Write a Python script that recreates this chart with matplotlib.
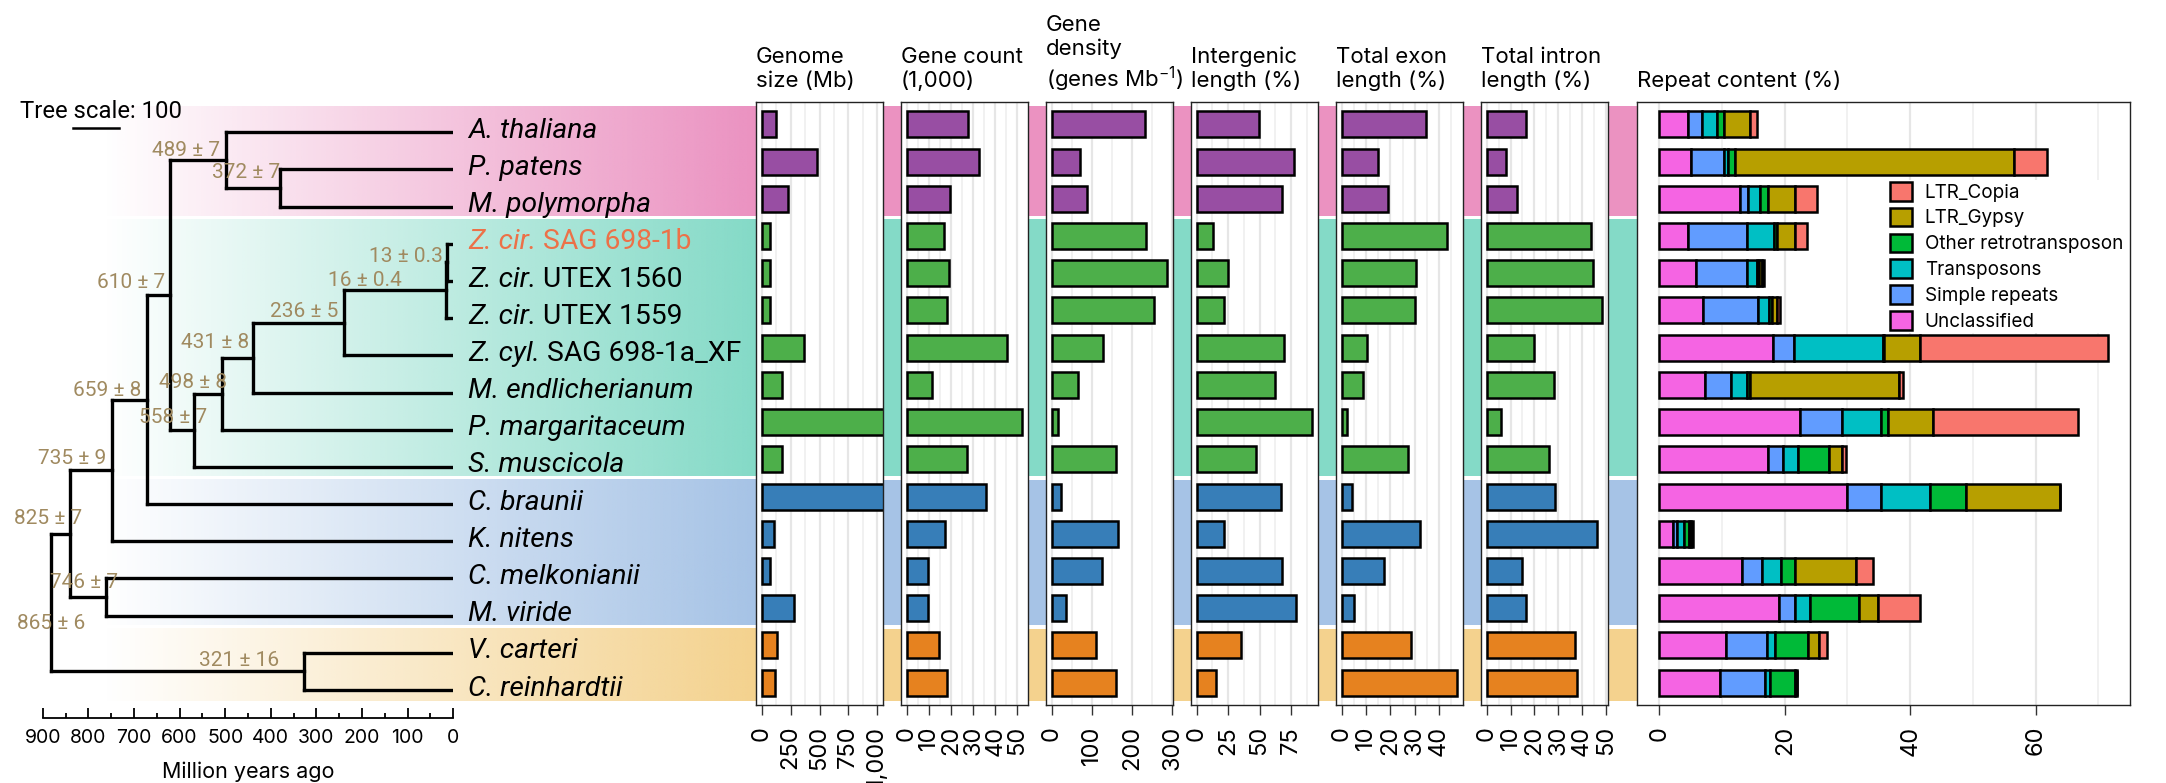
import matplotlib.pyplot as plt
import numpy as np
from matplotlib.collections import LineCollection
from matplotlib.ticker import MultipleLocator, AutoMinorLocator, FuncFormatter
from matplotlib.patches import Patch
from matplotlib.colors import to_rgb

plt.rcParams['font.family'] = 'Inter'
plt.rcParams['mathtext.default'] = 'regular'

W, H = 2166, 783

# species, top to bottom
species_italic = ['A. thaliana', 'P. patens', 'M. polymorpha', 'Z. cir.', 'Z. cir.', 'Z. cir.', 'Z. cyl.',
                  'M. endlicherianum', 'P. margaritaceum', 'S. muscicola', 'C. braunii', 'K. nitens',
                  'C. melkonianii', 'M. viride', 'V. carteri', 'C. reinhardtii']
species_strain = ['', '', '', 'SAG 698-1b', 'UTEX 1560', 'UTEX 1559', 'SAG 698-1a_XF',
                  '', '', '', '', '', '', '', '', '']
clade = ['Embryophyta'] * 3 + ['Zygnematophyceae'] * 7 + ['Streptophyte algae'] * 4 + ['Chlorophyta'] * 2
highlight = 'Z. cir. SAG 698-1b'

clade_bar = {'Embryophyta': '#984EA3', 'Zygnematophyceae': '#4DAF4A',
             'Streptophyte algae': '#377EB8', 'Chlorophyta': '#E6821F'}
clade_band = {'Embryophyta': '#EB92C1', 'Zygnematophyceae': '#84DAC7',
              'Streptophyte algae': '#A6C3E6', 'Chlorophyta': '#F4D28E'}

# genome statistics
genome_size = [124, 477, 231, 75, 72, 75, 364, 176, 1400, 173, 1750, 110, 75, 283, 133, 116]
gene_count = [27.9, 32.7, 19.6, 16.9, 19.0, 18.4, 45.5, 11.4, 52.2, 27.3, 35.8, 17.3, 9.6, 9.6, 14.5, 18.1]
gene_density = [231, 70.7, 87.2, 234, 287, 255, 126.6, 65, 15.6, 159.5, 22.2, 164.5, 125.8, 34.5, 109.4, 160.4]
intergenic = [49.2, 77.2, 67.9, 12.7, 25.1, 21.7, 69.8, 62.4, 92.0, 46.8, 67.1, 21.7, 68.2, 78.8, 34.9, 15.1]
exon = [34.7, 14.8, 19.2, 43.3, 30.5, 30.0, 10.4, 8.9, 2.2, 27.3, 4.1, 32.2, 17.3, 5.1, 28.5, 47.5]
intron = [16.6, 8.0, 12.9, 43.6, 44.6, 48.5, 19.8, 28.4, 6.0, 26.1, 28.8, 46.4, 14.8, 16.3, 36.9, 37.9]

# repeat content (%)
unclassified = [4.6, 5.1, 12.9, 4.5, 5.8, 7.0, 18.1, 7.3, 22.5, 17.4, 29.9, 2.1, 13.1, 19.0, 10.6, 9.7]
simple_rep = [2.2, 5.2, 1.3, 9.4, 8.2, 8.8, 3.3, 4.1, 6.7, 2.3, 5.4, 0.7, 3.2, 2.6, 6.5, 7.2]
transposons = [2.4, 0.6, 1.8, 4.4, 1.5, 1.7, 14.2, 2.5, 6.1, 2.4, 7.9, 1.2, 3.1, 2.4, 1.3, 0.8]
other_retro = [1.1, 1.2, 1.3, 0.5, 0.4, 0.5, 0.3, 0.5, 1.2, 5.0, 5.7, 0.7, 2.3, 7.8, 5.3, 3.9]
ltr_gypsy = [4.2, 44.4, 4.3, 2.8, 0.4, 0.8, 5.7, 23.9, 7.2, 2.1, 15.0, 0.4, 9.6, 3.1, 1.7, 0.3]
ltr_copia = [1.0, 5.3, 3.6, 1.9, 0.4, 0.4, 29.9, 0.6, 23.0, 0.6, 0.0, 0.2, 2.7, 6.6, 1.3, 0.1]
repeat_names = ['Unclassified', 'Simple repeats', 'Transposons', 'Other retrotransposon', 'LTR_Gypsy', 'LTR_Copia']
repeat_colors = ['#F564E3', '#619CFF', '#00BFC4', '#00BA38', '#B79F00', '#F8766D']

# time tree: (node, age, label, children); leaves are row indices
tree_nodes = [
    ('n13', 13, '13 ± 0.3', [3, 4]),
    ('n16', 16, '16 ± 0.4', ['n13', 5]),
    ('n236', 236, '236 ± 5', ['n16', 6]),
    ('n431', 431, '431 ± 8', ['n236', 7]),
    ('n498', 498, '498 ± 8', ['n431', 8]),
    ('n558', 558, '558 ± 7', ['n498', 9]),
    ('n372', 372, '372 ± 7', [1, 2]),
    ('n489', 489, '489 ± 7', [0, 'n372']),
    ('n610', 610, '610 ± 7', ['n489', 'n558']),
    ('n659', 659, '659 ± 8', ['n610', 10]),
    ('n735', 735, '735 ± 9', ['n659', 11]),
    ('n746', 746, '746 ± 7', [12, 13]),
    ('n825', 825, '825 ± 7', ['n735', 'n746']),
    ('n321', 321, '321 ± 16', [14, 15]),
    ('n865', 865, '865 ± 6', ['n825', 'n321']),
]
# where each age label sits relative to its node (Myr, rows)
label_dx = [9, 94, 12, 8, -11, -28, 1, 13, 10, 13, 12, -25, -26, 54, -73]
label_dy = [-0.15, -0.26, -0.30, -0.40, -0.29, -0.34, -0.41, -0.27, -0.33, -0.24, -0.31, -0.40, -0.40, -0.29, 0.55]

age_col = '#A08A60'
n = len(species_italic)


def px_axes(x0, y0, x1, y1, **kw):
    return fig.add_axes([x0 / W, 1 - y1 / H, (x1 - x0) / W, (y1 - y0) / H], **kw)


fig = plt.figure(figsize=(W / 100, H / 100), dpi=100)

# ---- coloured clade bands (gradient under the tree, solid between panels)
ax_grad = px_axes(103, 102, 756, 705, zorder=0)
ax_solid = px_axes(756, 102, 1637, 705, zorder=0)
firsts = {}
for i, c in enumerate(clade):
    firsts.setdefault(c, [i, i])[1] = i
for c, (i0, i1) in firsts.items():
    y0 = i0 - 0.5 + (0.05 if i0 > 0 else 0)
    y1 = i1 + 0.5 - (0.05 if i1 < n - 1 else 0)
    rgb = to_rgb(clade_band[c])
    grad = np.zeros((1, 256, 4))
    grad[..., :3] = rgb
    grad[..., 3] = np.linspace(0, 1, 256)
    ax_grad.imshow(grad, extent=(0, 1, y1, y0), aspect='auto', interpolation='bilinear')
    ax_solid.axhspan(y0, y1, color=clade_band[c], lw=0)
for a in (ax_grad, ax_solid):
    a.set_xlim(0, 1)
    a.set_ylim(15.6, -0.6)
    a.axis('off')

# ---- tree
ax_tree = px_axes(42.7, 102, 453.3, 705, zorder=2)
ax_tree.set_xlim(883, 0)
ax_tree.set_ylim(15.403, -0.815)
ax_tree.axis('off')
pos = {i: (0.0, float(i)) for i in range(n)}
segs = []
for (name, age, lab, kids), dx, dy in zip(tree_nodes, label_dx, label_dy):
    ys = [pos[k][1] for k in kids]
    pos[name] = (age, (min(ys) + max(ys)) / 2)
    segs.append([(age, min(ys)), (age, max(ys))])
    for k in kids:
        segs.append([(age, pos[k][1]), (pos[k][0], pos[k][1])])
    ax_tree.text(age + dx, pos[name][1] + dy, lab, ha='right', va='center',
                 color=age_col, fontsize=15, family='Roboto', clip_on=False)
ax_tree.add_collection(LineCollection(segs, colors='black', linewidths=2.4, capstyle='projecting'))

# scale bar
ax_tree.plot([818, 718], [-0.12, -0.12], color='black', lw=1.8, clip_on=False)
ax_tree.text(932, -0.55, 'Tree scale: 100', ha='left', va='center', fontsize=17.2,
             family='Roboto', clip_on=False)

# species labels
for i in range(n):
    full = species_italic[i] + (' ' + species_strain[i] if species_strain[i] else '')
    col = '#EC7148' if full == highlight else 'black'
    t = ax_tree.annotate(species_italic[i], xy=(0, i - 0.04), xytext=(10.5, 0), textcoords='offset points',
                         ha='left', va='center', fontsize=20.3, family='Roboto', style='italic',
                         color=col, annotation_clip=False)
    if species_strain[i]:
        ax_tree.annotate(' ' + species_strain[i], xy=(1, 0), xycoords=t, ha='left', va='bottom',
                         fontsize=20.3, family='Roboto', color=col, annotation_clip=False)

# time axis
ax_time = px_axes(42.7, 690, 453.3, 717.7, zorder=2)
ax_time.patch.set_visible(False)
for s in ('top', 'left', 'right'):
    ax_time.spines[s].set_visible(False)
ax_time.spines['bottom'].set_linewidth(1.3)
ax_time.set_xlim(900, 0)
ax_time.set_yticks([])
ax_time.xaxis.set_major_locator(MultipleLocator(100))
ax_time.xaxis.set_minor_locator(MultipleLocator(50))
ax_time.tick_params(axis='x', which='major', direction='in', length=7.2, width=1.3, pad=8, labelsize=14)
ax_time.tick_params(axis='x', which='minor', direction='in', length=3.6, width=1.3)
ax_time.set_xlabel('Million years ago', fontsize=15.5, labelpad=10.5)

# ---- bar panels
panels = [
    ('Genome\nsize (Mb)', genome_size, 250, 1000),
    ('Gene count\n(1,000)', gene_count, 10, None),
    ('Gene\ndensity\n(genes Mb$^{-1}$)', gene_density, 100, None),
    ('Intergenic\nlength (%)', intergenic, 25, None),
    ('Total exon\nlength (%)', exon, 10, None),
    ('Total intron\nlength (%)', intron, 10, None),
]
rows = np.arange(n)
bar_cols = [clade_bar[c] for c in clade]


def style_panel(ax, title, step, top):
    ax.set_xlim(-0.05 * top, 1.05 * top)
    ax.set_ylim(15.6, -0.6)
    ax.set_yticks([])
    ax.xaxis.set_major_locator(MultipleLocator(step))
    ax.xaxis.set_minor_locator(AutoMinorLocator(2))
    ax.xaxis.set_major_formatter(FuncFormatter(lambda v, p: f'{v:,.0f}'))
    ax.grid(axis='x', which='major', color='#E6E6E6', lw=1.6)
    ax.grid(axis='x', which='minor', color='#EDEDED', lw=1.1)
    ax.set_axisbelow(True)
    for s in ax.spines.values():
        s.set_color('#222222')
        s.set_linewidth(1.0)
    ax.tick_params(axis='x', which='major', length=7, width=1.0, color='#333333',
                   labelsize=17, labelrotation=90, pad=8)
    ax.tick_params(axis='x', which='minor', length=0)
    ax.annotate(title, xy=(0, 1), xycoords='axes fraction', xytext=(0, 10.5), textcoords='offset points',
                ha='left', va='baseline', fontsize=16, linespacing=1.25, annotation_clip=False)


for k, (title, vals, step, top) in enumerate(panels):
    x0 = 756 + 145 * k
    ax = px_axes(x0, 102, x0 + 127, 705, zorder=3)
    ax.barh(rows, vals, height=0.7, color=bar_cols, edgecolor='black', linewidth=1.8)
    style_panel(ax, title, step, top if top else max(vals))

# repeat content
ax_r = px_axes(1637, 102, 2130, 705, zorder=3)
left = np.zeros(n)
handles = []
for name, col, vals in zip(repeat_names, repeat_colors,
                           [unclassified, simple_rep, transposons, other_retro, ltr_gypsy, ltr_copia]):
    ax_r.barh(rows, vals, left=left, height=0.7, color=col, edgecolor='black', linewidth=1.8)
    left += np.array(vals)
    handles.append(Patch(facecolor=col, edgecolor='black', linewidth=1.8, label=name))
style_panel(ax_r, 'Repeat content (%)', 20, left.max())
ax_r.legend(handles=handles[::-1], loc='upper left', bbox_to_anchor=(1888 / W, 1 - 180 / H),
            bbox_transform=fig.transFigure, frameon=True, facecolor='white', edgecolor='none',
            framealpha=1, fancybox=False, borderpad=0.1, borderaxespad=0, fontsize=13.6,
            handlelength=1.15, handleheight=1.15, handletextpad=0.7, labelspacing=0.32)

fig.savefig('out.png', dpi=100)
